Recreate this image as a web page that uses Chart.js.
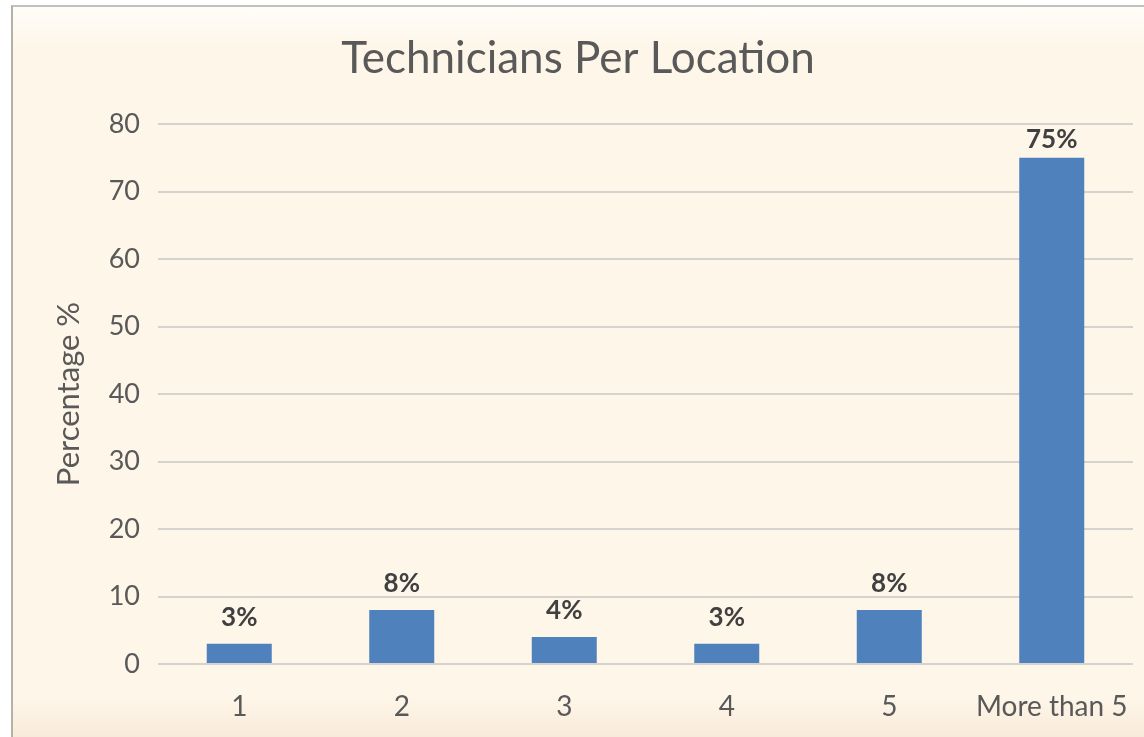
<!DOCTYPE html>
<html>
<head>
<meta charset="utf-8">
<title>Technicians Per Location</title>
<script src="https://cdn.jsdelivr.net/npm/chart.js@4/dist/chart.umd.min.js"></script>
<style>
  html, body { margin: 0; padding: 0; background: #ffffff; }
  #frame {
    position: absolute; left: 11px; top: 5px; width: 1133px; height: 732px;
    border-left: 2px solid #b4b0aa; border-top: 2px solid #c4c0ba;
    background: linear-gradient(to bottom, #fffdf9 0px, #fef6e9 40px, #fef6e9 690px, #f8ead8 732px);
  }
  #chart { position: absolute; left: 0; top: 0; }
</style>
</head>
<body>
<div id="frame"></div>
<canvas id="chart" width="1144" height="737"></canvas>
<script>
// ---- data ----
const chartTitle = 'Technicians Per Location';
const categories = ['1', '2', '3', '4', '5', 'More than 5'];
const percentValues = [3, 8, 4, 3, 8, 75];
const yTicks = [0, 10, 20, 30, 40, 50, 60, 70, 80];

const FONT = 'Lato, "Open Sans", sans-serif';
const TEXT = '#595959';

// title drawn by hand so it can sit a bit right of the canvas centre, like the original
const titlePlugin = {
    id: 'titlePlugin',
    afterDraw(chart) {
        const ctx = chart.ctx;
        ctx.save();
        ctx.font = '44px ' + FONT;
        ctx.fillStyle = TEXT;
        ctx.textAlign = 'center';
        ctx.textBaseline = 'alphabetic';
        ctx.fillText(chartTitle, 578, 73);
        ctx.restore();
    }
};

// "3%" style labels above each bar (kept inside the plot at the top)
const barLabels = {
    id: 'barLabels',
    afterDatasetsDraw(chart) {
        const ctx = chart.ctx;
        const meta = chart.getDatasetMeta(0);
        ctx.save();
        ctx.font = 'bold 26px ' + FONT;
        ctx.fillStyle = '#404040';
        ctx.textAlign = 'center';
        ctx.textBaseline = 'bottom';
        meta.data.forEach((bar, i) => {
            const y = Math.max(bar.y - 13, chart.chartArea.top + 29);
            ctx.fillText(percentValues[i] + '%', bar.x, y);
        });
        ctx.restore();
    }
};

new Chart(document.getElementById('chart'), {
    type: 'bar',
    data: {
        labels: categories,
        datasets: [{
            data: percentValues,
            backgroundColor: '#4f81bd',
            barPercentage: 0.8,
            categoryPercentage: 0.5
        }]
    },
    options: {
        responsive: false,
        animation: false,
        layout: { padding: { left: 0, right: 11, top: 124, bottom: 0 } },
        plugins: {
            legend: { display: false },
            tooltip: { enabled: false },
            title: { display: false }
        },
        scales: {
            x: {
                grid: { display: false, drawTicks: false },
                border: { display: false },
                ticks: { color: TEXT, font: { family: FONT, size: 28 }, padding: 26, maxRotation: 0 },
                afterFit(scale) {
                    scale.height = 73;
                    // "More than 5" is wide; don't let it shrink the plot
                    scale.paddingLeft = 0;
                    scale.paddingRight = 0;
                }
            },
            y: {
                min: 0,
                max: 80,
                afterBuildTicks(scale) { scale.ticks = yTicks.map(v => ({ value: v })); },
                grid: { color: '#d6d3cf', lineWidth: 2, drawTicks: false },
                border: { display: false },
                ticks: { color: TEXT, font: { family: FONT, size: 27 }, padding: 18 },
                title: {
                    display: true,
                    text: 'Percentage %',
                    color: TEXT,
                    font: { family: FONT, size: 31 },
                    padding: { top: 50, bottom: 0 }
                },
                afterFit(scale) { scale.width = 158; }
            }
        }
    },
    plugins: [barLabels, titlePlugin]
});
</script>
</body>
</html>
